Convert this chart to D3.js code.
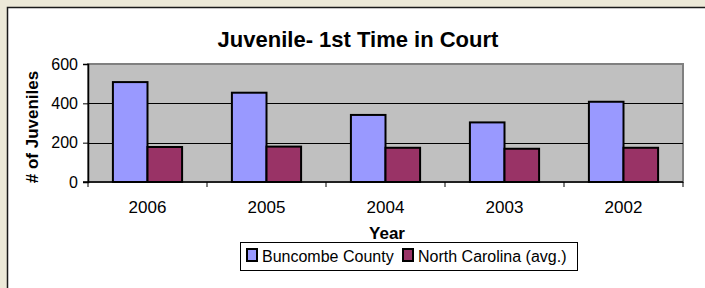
<!DOCTYPE html>
<html>
<head>
<meta charset="utf-8">
<script src="https://cdn.jsdelivr.net/npm/d3@7"></script>
<style>
  body { margin: 0; background: #ece9d8; }
  svg { display: block; }
  text { font-family: Arial, "Liberation Sans", sans-serif; fill: #000; }
</style>
</head>
<body>
<div id="chart"></div>
<script>
const width = 705;
const height = 288;

const years = ["2006", "2005", "2004", "2003", "2002"];
const seriesNames = ["Buncombe County", "North Carolina (avg.)"];
const buncombe = [508, 454, 341, 303, 408];
const northCarolina = [178, 180, 174, 169, 174];
const yTicks = [0, 200, 400, 600];
const colours = ["#9999ff", "#993366"];

const plot = { left: 88, right: 683, top: 64, bottom: 182 };

const svg = d3
  .select("#chart")
  .append("svg")
  .attr("width", width)
  .attr("height", height);

// white chart area with dark left / top edge
svg.append("rect")
  .attr("x", 7).attr("y", 7)
  .attr("width", width - 7).attr("height", height - 7)
  .attr("fill", "#fff");
svg.append("path")
  .attr("d", `M7.5,${height}V7.5H${width}`)
  .attr("fill", "none")
  .attr("stroke", "#1a1a1a")
  .attr("stroke-width", 1.5);

const x = d3.scaleBand().domain(years).range([plot.left, plot.right]);
const x1 = d3.scaleBand()
  .domain(seriesNames)
  .range([0, x.bandwidth()])
  .paddingOuter(0.72);
const y = d3.scaleLinear().domain([0, 600]).range([plot.bottom, plot.top]);

// plot background
svg.append("rect")
  .attr("x", plot.left).attr("y", plot.top)
  .attr("width", plot.right - plot.left)
  .attr("height", plot.bottom - plot.top)
  .attr("fill", "#c0c0c0")
  .attr("stroke", "#808080")
  .attr("stroke-width", 2);

// gridlines
svg.append("g")
  .selectAll("line")
  .data(yTicks.filter((d) => d > 0 && d < 600))
  .enter()
  .append("line")
  .attr("x1", plot.left).attr("x2", plot.right)
  .attr("y1", (d) => Math.round(y(d)) + 0.5)
  .attr("y2", (d) => Math.round(y(d)) + 0.5)
  .attr("stroke", "#000")
  .attr("stroke-width", 1);

// bars
const data = years.map((yr, i) => ({
  year: yr,
  values: [buncombe[i], northCarolina[i]],
}));

svg.append("g")
  .selectAll("g")
  .data(data)
  .enter()
  .append("g")
  .attr("transform", (d) => `translate(${x(d.year)},0)`)
  .selectAll("rect")
  .data((d) => d.values.map((v, i) => ({ name: seriesNames[i], value: v, i: i })))
  .enter()
  .append("rect")
  .attr("x", (d) => x1(d.name))
  .attr("y", (d) => y(d.value))
  .attr("width", x1.bandwidth())
  .attr("height", (d) => y(0) - y(d.value))
  .attr("fill", (d) => colours[d.i])
  .attr("stroke", "#000")
  .attr("stroke-width", 2);

// y axis
const yAxis = d3.axisLeft(y).tickValues(yTicks).tickSize(5).tickPadding(5);
const gy = svg.append("g")
  .attr("transform", `translate(${plot.left},0)`)
  .call(yAxis);
gy.select(".domain").attr("stroke", "#000").attr("stroke-width", 1.5);
gy.selectAll("text").attr("font-size", 16).attr("font-family", "Arial, 'Liberation Sans', sans-serif");

// x axis: ticks at category boundaries
const gx = svg.append("g").attr("transform", `translate(0,${plot.bottom})`);
gx.append("line")
  .attr("x1", plot.left - 5).attr("x2", plot.right)
  .attr("y1", 0).attr("y2", 0)
  .attr("stroke", "#000").attr("stroke-width", 1.5);
gx.selectAll("line.tick")
  .data(years.concat(["end"]))
  .enter()
  .append("line")
  .attr("class", "tick")
  .attr("x1", (d, i) => (i < years.length ? x(d) : plot.right))
  .attr("x2", (d, i) => (i < years.length ? x(d) : plot.right))
  .attr("y1", 0).attr("y2", 5)
  .attr("stroke", "#000");
gx.selectAll("text")
  .data(years)
  .enter()
  .append("text")
  .attr("x", (d) => x(d) + x.bandwidth() / 2)
  .attr("y", 31)
  .attr("text-anchor", "middle")
  .attr("font-size", 17)
  .text((d) => d);

// title
svg.append("text")
  .attr("x", 358).attr("y", 47)
  .attr("text-anchor", "middle")
  .attr("font-size", 22)
  .attr("font-weight", "bold")
  .text("Juvenile- 1st Time in Court");

// axis titles
svg.append("text")
  .attr("x", 387).attr("y", 239)
  .attr("text-anchor", "middle")
  .attr("font-size", 17)
  .attr("font-weight", "bold")
  .text("Year");

svg.append("text")
  .attr("transform", "translate(38,127) rotate(-90)")
  .attr("text-anchor", "middle")
  .attr("font-size", 17)
  .attr("font-weight", "bold")
  .text("# of Juveniles");

// legend
const legend = svg.append("g").attr("id", "legend");
legend.append("rect")
  .attr("x", 240.5).attr("y", 242.5)
  .attr("width", 337).attr("height", 28)
  .attr("fill", "#fff")
  .attr("stroke", "#000");

const legendX = [247, 403];
const items = legend.selectAll("g.item")
  .data(seriesNames)
  .enter()
  .append("g")
  .attr("class", "item")
  .attr("transform", (d, i) => `translate(${legendX[i]},249)`);
items.append("rect")
  .attr("width", 10).attr("height", 12)
  .attr("fill", (d, i) => colours[i])
  .attr("stroke", "#000")
  .attr("stroke-width", 2);
items.append("text")
  .attr("x", 15).attr("y", 12.5)
  .attr("font-size", 16)
  .text((d) => d);
</script>
</body>
</html>
